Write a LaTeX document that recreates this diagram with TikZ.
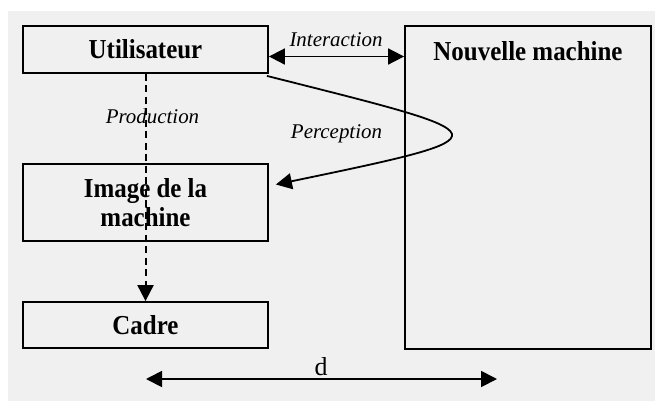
\documentclass[tikz,border=0pt]{standalone}
\usepackage{fontspec}
\setmainfont{Liberation Serif}[BoldFeatures={FakeStretch=0.91}]
\usetikzlibrary{arrows.meta}
\definecolor{bggray}{RGB}{240,240,240}
\begin{document}
\begin{tikzpicture}[x=1bp,y=-1bp,
  box/.style={draw, line width=1.8bp, minimum width=245bp, inner sep=0pt,
    font=\fontsize{27.5}{29}\selectfont\bfseries},
  boxtext/.style={anchor=base, inner sep=0pt, font=\fontsize{27.5}{29}\selectfont\bfseries},
  lbl/.style={font=\fontsize{21}{24}\selectfont\itshape, anchor=base, inner sep=0pt},
  tip/.tip={Triangle[length=16bp,width=16bp]},
  conn/.style={line width=1.8bp, -tip},
  biconn/.style={line width=1.8bp, tip-tip},
]
\useasboundingbox (0,0) rectangle (655,401);
\fill[white] (0,0) rectangle (655,401);
\fill[bggray] (8,11) rectangle (655,401);
% boxes
\node[box, minimum height=47bp] (u) at (145.5,49.5) {Utilisateur};
\node[box, minimum height=77bp, align=center] (img) at (145.5,202.5) {Image de la\\machine};
\node[box, minimum height=46bp] (cadre) at (145.5,325) {Cadre};
\node[box, minimum width=246bp, minimum height=323bp] (nm) at (528,187.5) {};
\node[boxtext] (nmt) at ([yshift=-35bp]nm.north) {Nouvelle machine};
% interaction
\draw[biconn] ([yshift=-7bp]u.east) coordinate (ia) -- (ia -| nm.west);
\node[lbl] (il) at (336,46) {Interaction};
% production
\draw[conn, line width=2bp, dash pattern=on 7bp off 4.5bp] (u.south) -- (cadre.north);
\node[lbl] (pl) at (152.5,123) {Production};
% perception
\draw[conn] ([shift={(-2,2)}]u.south east) .. controls (505,136) and (514,135) .. ([shift={(7,-18)}]img.east);
\node[lbl] (pc) at (336.5,138) {Perception};
% distance
\coordinate (dl) at (146,379);
\coordinate (dr) at (497,379);
\draw[biconn] (dl) -- (dr);
\node[anchor=base, inner sep=0pt, font=\fontsize{26}{29}\selectfont] (d) at (321,375.5) {d};
\end{tikzpicture}
\end{document}
